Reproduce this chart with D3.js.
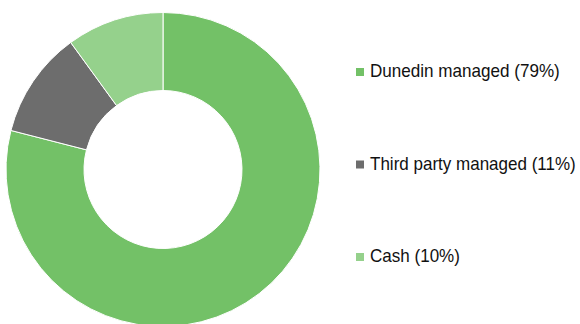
<!DOCTYPE html>
<html>
<head>
<meta charset="utf-8">
<script src="https://cdn.jsdelivr.net/npm/d3@7"></script>
<style>
  html, body { margin: 0; padding: 0; background: #fff; }
  #chart { width: 580px; height: 324px; }
</style>
</head>
<body>
<div id="chart"></div>
<script>
// chart data
var categories = ['Dunedin managed', 'Third party managed', 'Cash'];
var shares = [79, 11, 10];
var labels = ['Dunedin managed (79%)', 'Third party managed (11%)', 'Cash (10%)'];
var colours = ['#73c167', '#6d6d6d', '#95d18c'];

var width = 580, height = 324;
var svg = d3.select('#chart').append('svg')
    .attr('width', width)
    .attr('height', height);

var cx = 163, cy = 169.5, outerR = 157, innerR = 79;

var pie = d3.pie().sort(null).value(function(d) { return d; });
var arc = d3.arc().innerRadius(innerR).outerRadius(outerR);
var colour = d3.scaleOrdinal().domain(categories).range(colours);

svg.append('g')
    .attr('transform', 'translate(' + cx + ',' + cy + ')')
  .selectAll('path').data(pie(shares))
  .enter().append('path')
    .attr('d', arc)
    .attr('fill', function(d, i) { return colour(categories[i]); })
    .attr('stroke', '#fff')
    .attr('stroke-width', 1);

// legend, one row per category (y = text baseline)
var rowY = d3.scalePoint().domain(categories).range([77, 262]);
// the original labels use a narrow face, so squeeze ours horizontally
var labelWidth = [190, 206, 90];

var legend = svg.selectAll('g.legend').data(categories)
  .enter().append('g')
    .attr('class', 'legend')
    .attr('transform', function(d) { return 'translate(356,' + rowY(d) + ')'; });

legend.append('rect')
    .attr('x', 0)
    .attr('y', -9)
    .attr('width', 8)
    .attr('height', 8)
    .attr('fill', function(d) { return colour(d); });

legend.append('text')
    .attr('x', 0)
    .attr('y', 0)
    .attr('font-family', 'Liberation Sans, Arial, sans-serif')
    .attr('font-size', 18)
    .attr('fill', '#111')
    .text(function(d, i) { return labels[i]; })
    .attr('transform', function(d, i) {
      var natural = this.getComputedTextLength();
      return 'translate(14,0) scale(' + (labelWidth[i] / natural) + ',1)';
    });
</script>
</body>
</html>
